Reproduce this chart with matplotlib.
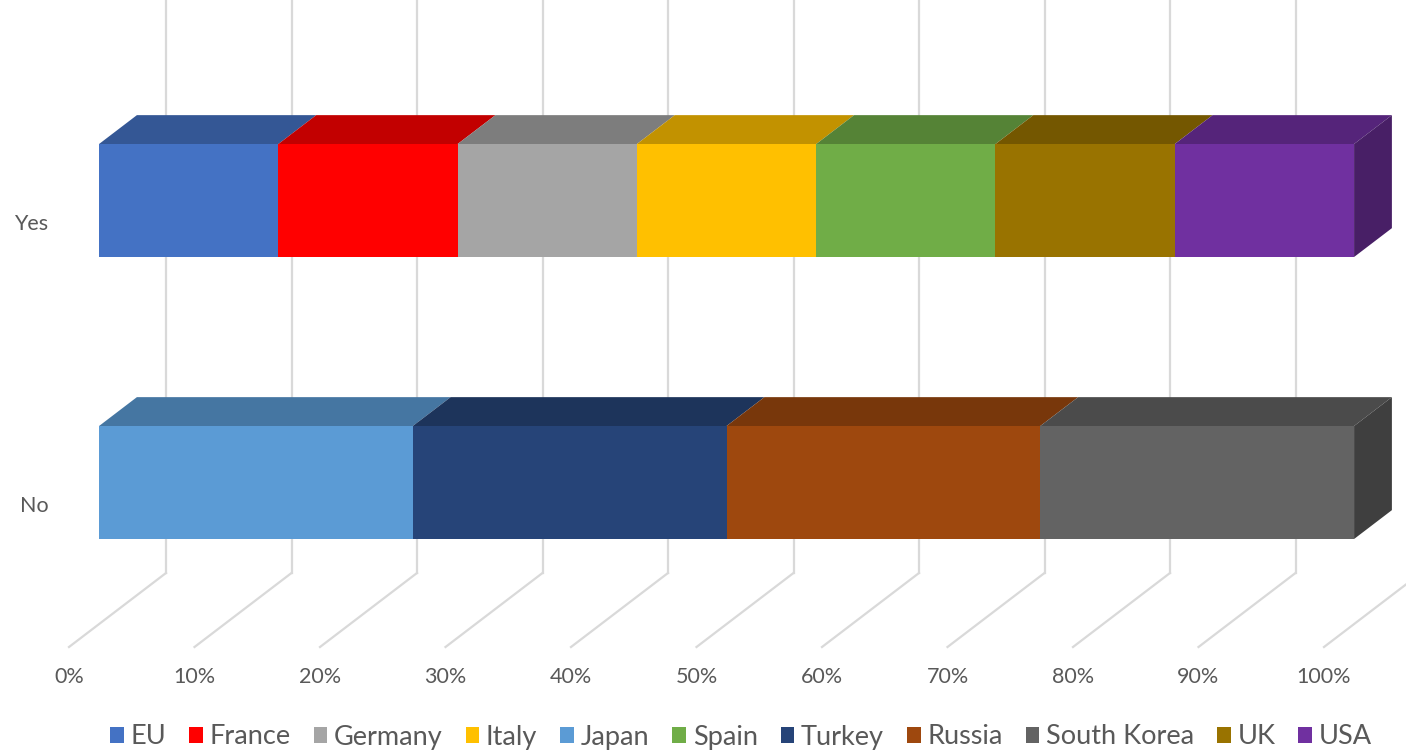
import matplotlib.pyplot as plt
import matplotlib.patches as mpatches
import matplotlib.colors as mcolors
import numpy as np

# series in legend order
series_names = ["EU", "France", "Germany", "Italy", "Japan", "Spain",
                "Turkey", "Russia", "South Korea", "UK", "USA"]
series_colors = ["#4472C4", "#FF0000", "#A5A5A5", "#FFC000", "#5B9BD5", "#70AD47",
                 "#264478", "#9E480E", "#636363", "#997300", "#7030A0"]
yes_values = [1, 1, 1, 1, 0, 1, 0, 0, 0, 1, 1]
no_values = [0, 0, 0, 0, 1, 0, 1, 1, 1, 0, 0]
categories = ["Yes", "No"]
tick_pcts = list(range(0, 101, 10))

plt.rcParams['font.family'] = ['Lato', 'DejaVu Sans']
text_color = "#595959"

fig = plt.figure(figsize=(14.06, 7.51), dpi=100)
ax = fig.add_axes([0, 0, 1, 1])
px_per_pct = 12.55
floor_front_px = 69
ax.set_xlim(-floor_front_px / px_per_pct, (1406 - floor_front_px) / px_per_pct)
ax.set_ylim(751, 0)
ax.axis("off")

# 3d projection: depth d in [0,1] moves right and up
depth_dx = 97 / px_per_pct
depth_dy = -74
floor_y = 647


def proj(pct, d, y):
    return (pct + d * depth_dx, y + d * depth_dy)


# gridlines: back wall verticals plus floor diagonals
grid_color = "#D9D9D9"
for p in tick_pcts:
    bx, by = proj(p, 1, floor_y)
    ax.plot([bx, bx], [0, by], color=grid_color, lw=1.6, zorder=1)
    ax.plot([p, bx], [floor_y, by], color=grid_color, lw=1.6, zorder=1)
    ax.text(p, 677, f"{p}%", ha="center", va="center", fontsize=15.5, color=text_color)

# bars (front face top given in screen y)
d0, d1 = 0.31, 0.70
bar_top = {"Yes": 144, "No": 426}
bar_h = 113
label_x = {"Yes": 31, "No": 34}
label_y = {"Yes": 224, "No": 506}


def shade(c, f):
    r, g, b = mcolors.to_rgb(c)
    return (r * f, g * f, b * f)


for cat, vals in zip(categories, [yes_values, no_values]):
    vals = np.array(vals, dtype=float)
    pcts = vals / vals.sum() * 100
    left = 0.0
    top = bar_top[cat] - d0 * depth_dy
    bottom = top + bar_h
    idx = [i for i in range(len(vals)) if vals[i] > 0]
    for k, i in enumerate(idx):
        right = left + pcts[i]
        col = series_colors[i]
        # top face
        topface = [proj(left, d0, top), proj(right, d0, top),
                   proj(right, d1, top), proj(left, d1, top)]
        ax.add_patch(mpatches.Polygon(topface, closed=True, facecolor=shade(col, 0.76),
                                      edgecolor="none", zorder=3))
        # front face
        front = [proj(left, d0, top), proj(right, d0, top),
                 proj(right, d0, bottom), proj(left, d0, bottom)]
        ax.add_patch(mpatches.Polygon(front, closed=True, facecolor=col,
                                      edgecolor="none", zorder=4))
        if k == len(idx) - 1:
            side = [proj(right, d0, top), proj(right, d1, top),
                    proj(right, d1, bottom), proj(right, d0, bottom)]
            ax.add_patch(mpatches.Polygon(side, closed=True, facecolor=shade(col, 0.64),
                                          edgecolor="none", zorder=3))
        left = right
    lx = (label_x[cat] - floor_front_px) / px_per_pct
    ax.text(lx, label_y[cat], cat, ha="center", va="center", fontsize=15.5, color=text_color)

handles = [mpatches.Patch(facecolor=c, edgecolor="none", label=n)
           for n, c in zip(series_names, series_colors)]
leg = ax.legend(handles=handles, loc="center", bbox_to_anchor=(0.527, 1 - 737 / 751),
                ncol=11, frameon=False, fontsize=19.5, handlelength=0.5, handleheight=0.5,
                handletextpad=0.25, columnspacing=0.85, labelcolor=text_color,
                borderaxespad=0)

fig.savefig("out.png", dpi=100)
